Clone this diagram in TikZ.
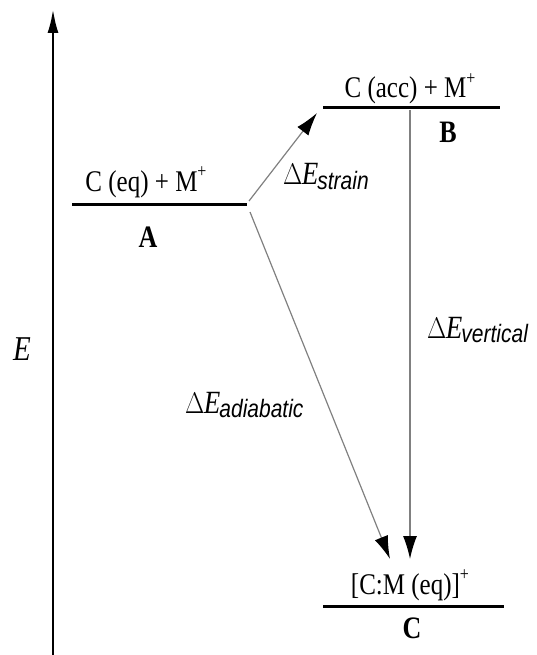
\documentclass[tikz,border=0pt]{standalone}
\usepackage{fontspec}
\setmainfont{Liberation Serif}
\newfontfamily\subfont{Liberation Sans}
\usetikzlibrary{arrows.meta}
\newcommand{\tall}[1]{\scalebox{1}[1.2]{#1}}
\newcommand{\plus}{\raisebox{11pt}{\fontsize{16}{18}\selectfont +}}
\newcommand{\dE}[1]{\tall{\fontsize{27}{30}\selectfont $\Delta$\kern-0.5pt\textit{E}\kern-1pt\raisebox{-4pt}{\subfont\itshape\fontsize{21}{24}\selectfont #1}}}
\tikzset{
  lvl/.style={line width=3pt, line cap=butt},
  txt/.style={inner sep=0pt, anchor=base, font=\fontsize{25}{28}\selectfont},
  lab/.style={inner sep=0pt, anchor=base, font=\fontsize{26}{28}\selectfont\bfseries},
  conn/.style={draw=black!50, line width=1.2pt, -{Latex[length=23pt,width=14pt,color=black]}},
}
\begin{document}
\begin{tikzpicture}[x=1pt,y=-1pt]
\useasboundingbox (0,0) rectangle (537,655);
% axis
\coordinate (ax0) at (53,655);
\coordinate (ax1) at (53,9);
\draw[line width=2.6pt, -{Latex[length=24pt,width=11pt]}] (ax0) -- (ax1);
\node[inner sep=0pt, anchor=base, font=\fontsize{29}{30}\selectfont\itshape] (E) at (22,360) {\tall{E}};
% level A
\coordinate (A1) at (72,204);
\coordinate (A2) at (247,204);
\draw[lvl] (A1) -- (A2);
\node[txt] (Atxt) at (146,191) {\tall{C (eq) + M\plus}};
\node[lab] (A) at (148,247) {\tall{A}};
% level B
\coordinate (B1) at (323,108);
\coordinate (B2) at (500,108);
\draw[lvl] (B1) -- (B2);
\node[txt] (Btxt) at (410,98) {\tall{C (acc) + M\plus}};
\node[lab] (B) at (448,143) {\tall{B}};
% level C
\coordinate (C1) at (323,606);
\coordinate (C2) at (504,606);
\draw[lvl] (C1) -- (C2);
\node[txt] (Ctxt) at (410,594) {\tall{[C:M (eq)]\plus}};
\node[lab] (C) at (412,638) {\tall{C}};
% arrows
\coordinate (sA) at (249,201);
\coordinate (tB) at (317,113);
\draw[conn] (sA) -- (tB);
\coordinate (sA2) at (250,212);
\coordinate (tC1) at (390,559);
\draw[conn] (sA2) -- (tC1);
\coordinate (sB) at (410,110);
\coordinate (tC2) at (410,559);
\draw[conn] (sB) -- (tC2);
% labels
\node[inner sep=0pt, anchor=base west] (ls) at (283,185) {\dE{strain}};
\node[inner sep=0pt, anchor=base west] (lv) at (427,338) {\dE{vertical}};
\node[inner sep=0pt, anchor=base west] (la) at (185,413) {\dE{adiabatic}};
\end{tikzpicture}
\end{document}
